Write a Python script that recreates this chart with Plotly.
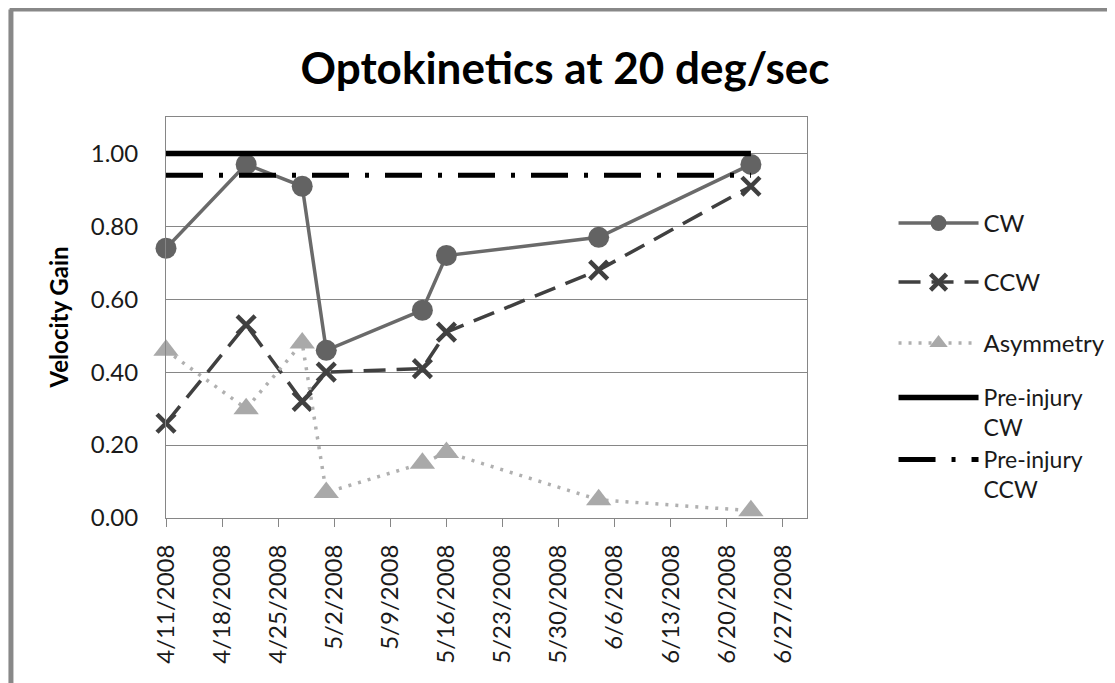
import plotly.graph_objects as go

# ---- data ----
dates = ["2008-04-11", "2008-04-21", "2008-04-28", "2008-05-01",
         "2008-05-13", "2008-05-16", "2008-06-04", "2008-06-23"]
cw = [0.74, 0.97, 0.91, 0.46, 0.57, 0.72, 0.77, 0.97]
ccw = [0.26, 0.53, 0.32, 0.40, 0.41, 0.51, 0.68, 0.91]
asym = [0.46, 0.30, 0.48, 0.07, 0.15, 0.18, 0.05, 0.02]
pre_cw = [1.00, 1.00, 1.00, 1.00, 1.00, 1.00, 1.00, 1.00]
pre_ccw = [0.94, 0.94, 0.94, 0.94, 0.94, 0.94, 0.94, 0.94]

tick_dates = ["2008-04-11", "2008-04-18", "2008-04-25", "2008-05-02", "2008-05-09",
              "2008-05-16", "2008-05-23", "2008-05-30", "2008-06-06", "2008-06-13",
              "2008-06-20", "2008-06-27"]
tick_labels = ["4/11/2008", "4/18/2008", "4/25/2008", "5/2/2008", "5/9/2008",
               "5/16/2008", "5/23/2008", "5/30/2008", "6/6/2008", "6/13/2008",
               "6/20/2008", "6/27/2008"]
y_ticks = [0.0, 0.2, 0.4, 0.6, 0.8, 1.0]

FONT = "Lato, 'Open Sans', sans-serif"

fig = go.Figure()

fig.add_trace(go.Scatter(
    x=dates, y=cw, name="CW", mode="lines+markers", legend="legend",
    line=dict(color="#6a6a6a", width=3.5),
    marker=dict(symbol="circle", size=21, color="#636363"),
    cliponaxis=False))

fig.add_trace(go.Scatter(
    x=dates, y=ccw, name="CCW", mode="lines+markers", legend="legend2",
    line=dict(color="#404040", width=3.5, dash="22px,11px"),
    marker=dict(symbol="x-thin-open", size=18, color="#404040",
                line=dict(color="#404040", width=4.5)),
    cliponaxis=False))

fig.add_trace(go.Scatter(
    x=dates, y=asym, name="Asymmetry", mode="lines+markers", legend="legend3",
    line=dict(color="#b0b0b0", width=3.5, dash="3px,7px"),
    marker=dict(symbol="triangle-up", size=22, color="#a9a9a9"),
    cliponaxis=False))

fig.add_trace(go.Scatter(
    x=dates, y=pre_cw, name="Pre-injury<br>CW", mode="lines", legend="legend4",
    line=dict(color="#000000", width=5.5), cliponaxis=False))

fig.add_trace(go.Scatter(
    x=dates, y=pre_ccw, name="Pre-injury<br>CCW", mode="lines", legend="legend5",
    line=dict(color="#000000", width=5, dash="37px,16px,4px,16px"),
    cliponaxis=False))


def legend_at(ypaper, size=24):
    return dict(x=1.135, xanchor="left", y=ypaper, yanchor="top",
                font=dict(family=FONT, size=size, color="#1a1a1a"),
                itemwidth=80, valign="top", bgcolor="rgba(0,0,0,0)")


fig.update_layout(
    width=1115, height=683,
    margin=dict(l=158, r=310, t=109, b=173),
    paper_bgcolor="white", plot_bgcolor="white",
    font=dict(family=FONT, size=24, color="#1a1a1a"),
    title=dict(text="<b>Optokinetics at 20 deg/sec</b>", x=0.4996, xanchor="center",
               y=0.912, yanchor="middle", yref="container",
               font=dict(family=FONT, size=44, color="#000000")),
    showlegend=True,
    legend=legend_at(0.7905),
    legend2=legend_at(0.6434),
    legend3=legend_at(0.4913),
    legend4=legend_at(0.3541, 23),
    legend5=legend_at(0.1995, 23),
    xaxis=dict(
        type="date", range=["2008-04-11", "2008-06-30"],
        tickvals=tick_dates, ticktext=tick_labels, tickangle=-90,
        ticks="outside", ticklen=8, tickcolor="#868686", tickwidth=1,
        ticklabelstandoff=8,
        showgrid=False, showline=True, linecolor="#868686", linewidth=1, mirror=True,
        tickfont=dict(family=FONT, size=24, color="#1a1a1a"), zeroline=False),
    yaxis=dict(
        range=[0, 1.1], tickvals=y_ticks, tickformat=".2f",
        ticks="outside", ticklen=22, tickcolor="rgba(0,0,0,0)",
        showgrid=True, gridcolor="#868686", gridwidth=1,
        showline=True, linecolor="#868686", linewidth=1, mirror=True,
        tickfont=dict(family=FONT, size=24, color="#1a1a1a"), zeroline=False),
    annotations=[dict(text="<b>Velocity Gain</b>", textangle=-90, xref="paper", yref="paper",
                      x=-0.167, y=0.5, xanchor="center", yanchor="middle", showarrow=False,
                      font=dict(family=FONT, size=24, color="#000000"))],
    shapes=[
        dict(type="line", xref="paper", yref="paper", x0=-0.244, x1=1.6, y0=1.268, y1=1.268,
             line=dict(color="#888888", width=4)),
        dict(type="line", xref="paper", yref="paper", x0=-0.2419, x1=-0.2419, y0=1.268, y1=-0.5,
             line=dict(color="#888888", width=5)),
    ],
)

fig.write_html("out.html")
